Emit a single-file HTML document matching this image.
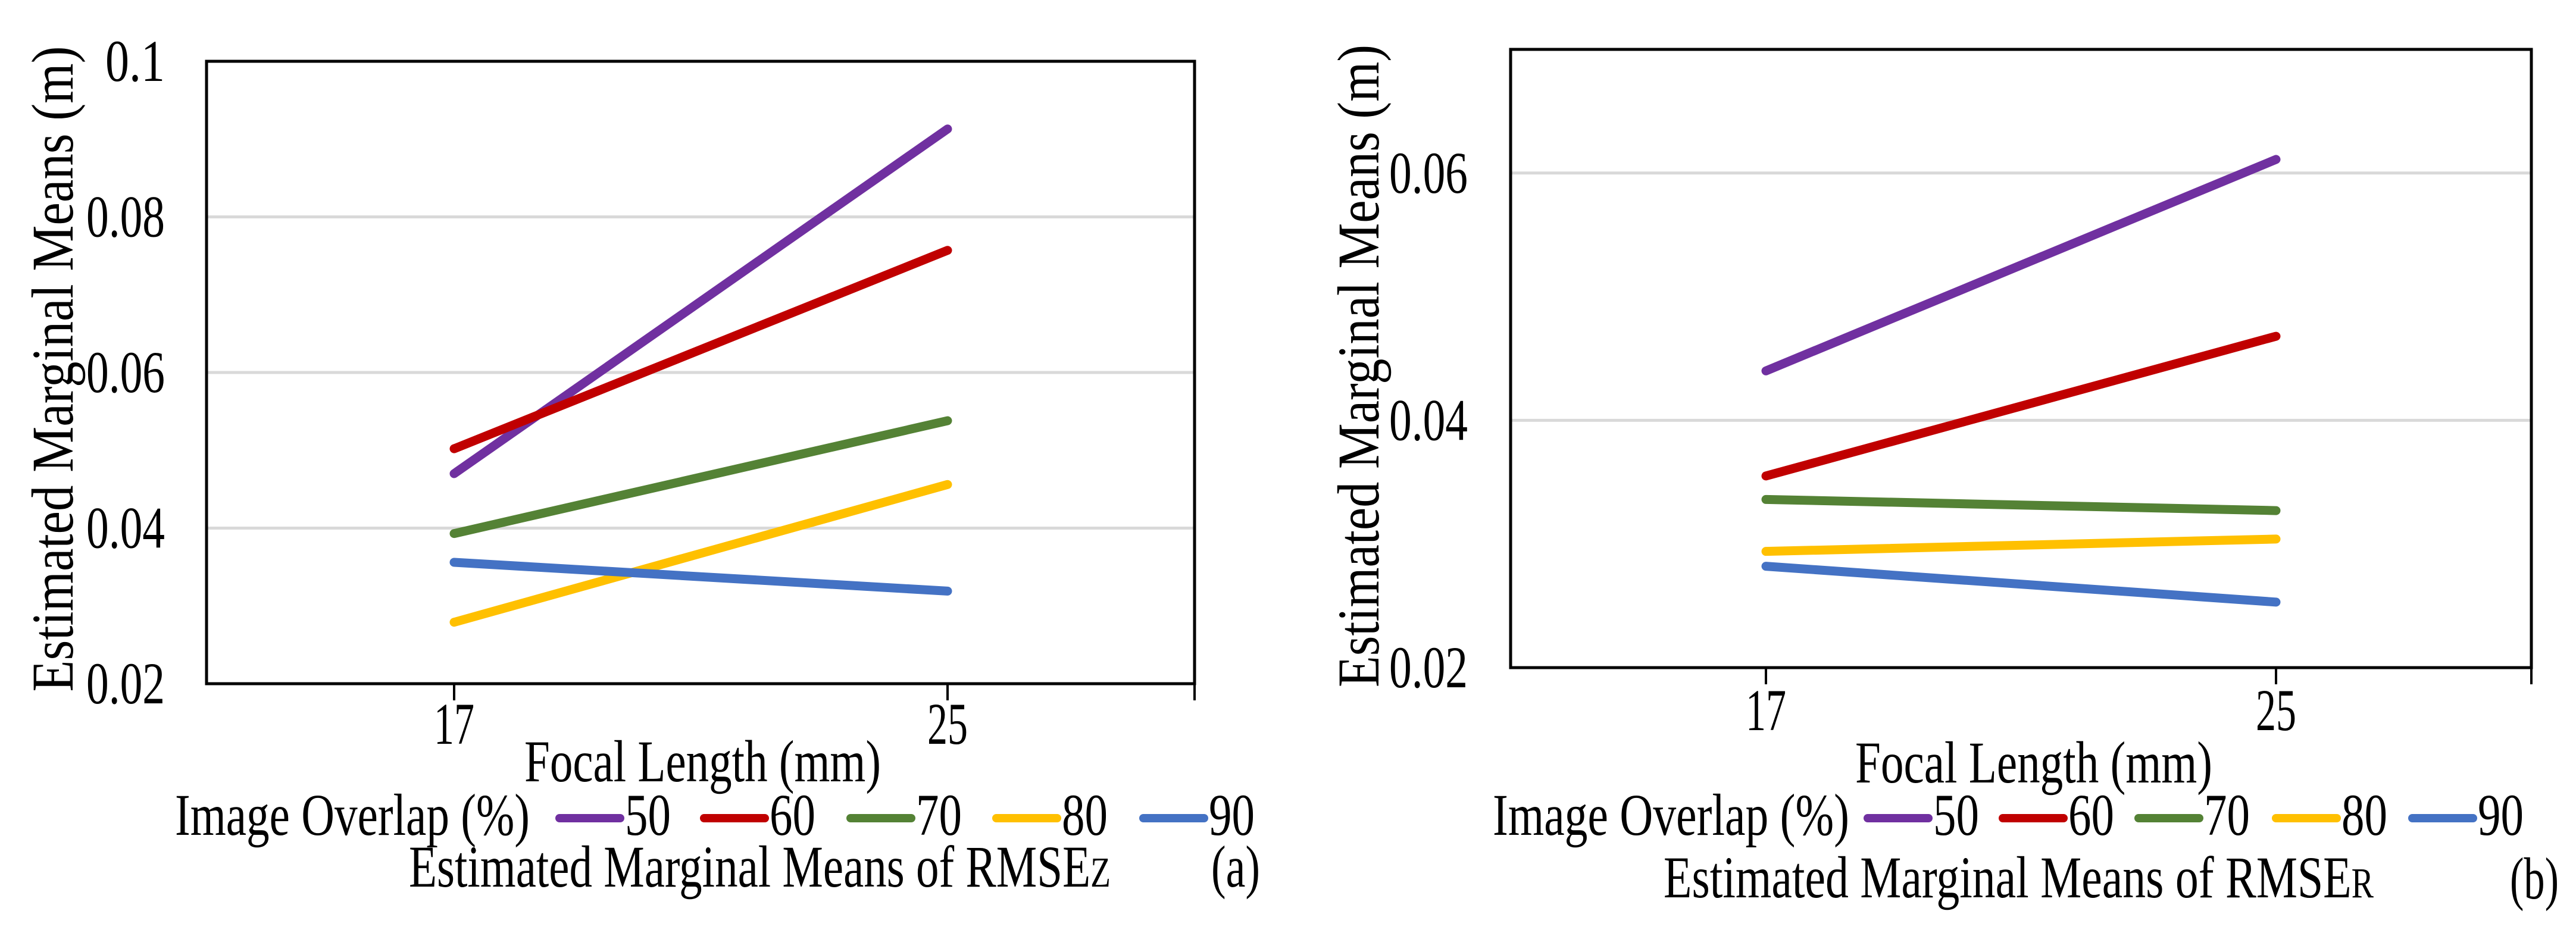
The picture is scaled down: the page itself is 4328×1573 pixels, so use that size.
<!DOCTYPE html>
<html><head><meta charset="utf-8"><style>
html,body{margin:0;padding:0;background:#fff;}
svg{display:block;}
text{font-family:"Liberation Serif",serif;fill:#000;}
</style></head><body>
<svg id="fig" width="4328" height="1573" viewBox="0 0 4328 1573" xmlns="http://www.w3.org/2000/svg"></svg>
<script>
const categories = [17, 25];
const seriesNames = ["50", "60", "70", "80", "90"];
const colors = ["#7030a0", "#c00000", "#548235", "#ffc000", "#4472c4"];
const valuesA50 = [0.0470, 0.0913];
const valuesA60 = [0.0502, 0.0757];
const valuesA70 = [0.0393, 0.0538];
const valuesA80 = [0.0279, 0.0456];
const valuesA90 = [0.0356, 0.0319];
const valuesB50 = [0.0440, 0.0611];
const valuesB60 = [0.0355, 0.0468];
const valuesB70 = [0.0336, 0.0327];
const valuesB80 = [0.0294, 0.0304];
const valuesB90 = [0.0282, 0.0253];
const ticksA = [0.02, 0.04, 0.06, 0.08, 0.1];
const tickLabelsA = ["0.02", "0.04", "0.06", "0.08", "0.1"];
const ticksB = [0.02, 0.04, 0.06];
const tickLabelsB = ["0.02", "0.04", "0.06"];

const NS = "http://www.w3.org/2000/svg";
const svg = document.getElementById("fig");
const FS = 100;
function mk(tag, attrs, parent, txt) {
  const e = document.createElementNS(NS, tag);
  for (const k in attrs) e.setAttribute(k, attrs[k]);
  if (txt !== undefined) e.textContent = txt;
  (parent || svg).appendChild(e);
  return e;
}

function drawChart(cfg) {
  const g = mk("g", {});
  
  
  const yScale = v => cfg.bottom - (v - cfg.ymin) / (cfg.ymax - cfg.ymin) * (cfg.bottom - cfg.top);
  const xScale = i => cfg.xPos[i];
  cfg.ticks.forEach((t, i) => {
    const y = yScale(t);
    if (i > 0 && t < cfg.ymax - 1e-9) {
      const gl = mk("line", {x1: cfg.left, x2: cfg.right, y1: y, y2: y, stroke: "#d9d9d9", "stroke-width": 5}, g);
      
      
    }
    const tl = mk("text", {x: cfg.tickX, y: y + 33, "font-size": FS, "text-anchor": "end", textLength: cfg.tickW(cfg.tickLabels[i]), lengthAdjust: "spacingAndGlyphs"}, g, cfg.tickLabels[i]);
    
    
  });
  const fr = mk("rect", {x: cfg.left, y: cfg.top, width: cfg.right - cfg.left, height: cfg.bottom - cfg.top, fill: "none", stroke: "#000", "stroke-width": 5}, g);
  
  
  [cfg.xPos[0], cfg.xPos[1], cfg.right].forEach(x => {
    const tk = mk("line", {x1: x, x2: x, y1: cfg.bottom, y2: cfg.bottom + 28, stroke: "#000", "stroke-width": 4}, g);
    
    
  });
  categories.forEach((c, i) => {
    const t = mk("text", {x: xScale(i), y: cfg.xLabelY, "font-size": FS, "text-anchor": "middle", textLength: 68, lengthAdjust: "spacingAndGlyphs"}, g, String(c));
    
    
  });
  cfg.series.forEach((vals, s) => {
    const pts = vals.map((v, i) => xScale(i) + "," + yScale(v)).join(" ");
    const pl = mk("polyline", {points: pts, fill: "none", stroke: colors[s], "stroke-width": 15, "stroke-linecap": "round"}, g);
    
    
  });
  const yt = mk("text", {x: 0, y: 0, "font-size": FS, "text-anchor": "middle", textLength: cfg.yTitleLen, lengthAdjust: "spacingAndGlyphs", transform: "translate(" + cfg.yTitleX + "," + cfg.yTitleY + ") rotate(-90)"}, g, "Estimated  Marginal  Means  (m)");
  
  
  const xt = mk("text", {x: cfg.xTitle[0], y: cfg.xTitle[1], "font-size": FS, textLength: cfg.xTitle[2], lengthAdjust: "spacingAndGlyphs"}, g, "Focal Length (mm)");
  
  
  const lt = mk("text", {x: cfg.legTitle[0], y: cfg.legY, "font-size": FS, textLength: cfg.legTitle[1], lengthAdjust: "spacingAndGlyphs"}, g, "Image Overlap (%)");
  
  
  seriesNames.forEach((n, s) => {
    const sw = cfg.swatches[s];
    const ln = mk("line", {x1: sw + 6, x2: sw + 108, y1: cfg.legY - 28, y2: cfg.legY - 28, stroke: colors[s], "stroke-width": 14, "stroke-linecap": "round"}, g);
    
    
    const tx = mk("text", {x: sw + 116, y: cfg.legY, "font-size": FS, textLength: 77, lengthAdjust: "spacingAndGlyphs"}, g, n);
    
    
  });
  const cap = mk("text", {x: cfg.caption[0], y: cfg.caption[1], "font-size": FS, textLength: cfg.caption[2], lengthAdjust: "spacingAndGlyphs"}, g);
  
  
  cap.appendChild(document.createTextNode("Estimated  Marginal  Means of RMSE"));
  mk("tspan", {"font-size": 72}, cap, cfg.sub);
  const pl = mk("text", {x: cfg.panel[0], y: cfg.panel[1], "font-size": FS, textLength: 82, lengthAdjust: "spacingAndGlyphs"}, g, cfg.panel[2]);
  
  
}

const tw = s => s.length === 3 ? 100 : 132;
drawChart({
  name: "chart-a-rmsez", left: 347, right: 2007, top: 103, bottom: 1149, ymin: 0.02, ymax: 0.1,
  xPos: [763, 1592], ticks: ticksA, tickLabels: tickLabelsA, tickX: 277, tickW: tw, xLabelY: 1250,
  series: [valuesA50, valuesA60, valuesA70, valuesA80, valuesA90],
  yTitleX: 122, yTitleY: 620, yTitleLen: 1085,
  xTitle: [881, 1313, 599], legY: 1403, legTitle: [294, 596],
  swatches: [934, 1177, 1423, 1668, 1915],
  caption: [687, 1490, 1179], sub: "Z", panel: [2035, 1490, "(a)"]
});
drawChart({
  name: "chart-b-rmser", left: 2538, right: 4253, top: 83, bottom: 1122, ymin: 0.02, ymax: 0.07,
  xPos: [2967, 3824], ticks: ticksB, tickLabels: tickLabelsB, tickX: 2466, tickW: tw, xLabelY: 1227,
  series: [valuesB50, valuesB60, valuesB70, valuesB80, valuesB90],
  yTitleX: 2316, yTitleY: 615, yTitleLen: 1080,
  xTitle: [3117, 1315, 600], legY: 1403, legTitle: [2508, 599],
  swatches: [3132, 3359, 3587, 3818, 4047],
  caption: [2795, 1508, 1193], sub: "R", panel: [4217, 1510, "(b)"]
});
</script>
</body></html>
